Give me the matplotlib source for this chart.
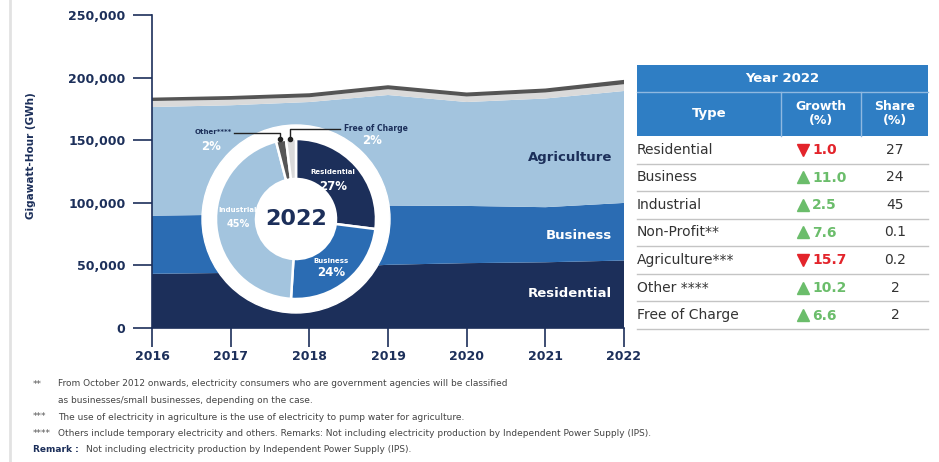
import numpy as np
import matplotlib.pyplot as plt
from matplotlib.patches import Circle, Rectangle

# electricity sales by type, GWh
years = [2016, 2017, 2018, 2019, 2020, 2021, 2022]
residential = [43300, 44000, 47000, 50500, 51800, 52500, 53900]
business = [46400, 46500, 46500, 47300, 45700, 44000, 46000]
industrial = [86800, 87400, 87000, 88300, 83000, 86800, 89400]
free_charge = [4800, 4400, 3800, 4600, 4400, 4800, 5400]
other = [2700, 3000, 3200, 3200, 3200, 3200, 3500]

# 2022 share for the donut
pie_labels = ['Residential', 'Business', 'Industrial', 'Other****', 'Free of Charge']
pie_shares = [27, 24, 45, 2, 2]

# table on the right
tbl_types = ['Residential', 'Business', 'Industrial', 'Non-Profit**',
             'Agriculture***', 'Other ****', 'Free of Charge']
tbl_growth = [-1.0, 11.0, 2.5, 7.6, -15.7, 10.2, 6.6]
tbl_share = ['27', '24', '45', '0.1', '0.2', '2', '2']

notes = [
    ('**', 'From October 2012 onwards, electricity consumers who are government agencies will be classified'),
    ('', 'as businesses/small businesses, depending on the case.'),
    ('***', 'The use of electricity in agriculture is the use of electricity to pump water for agriculture.'),
    ('****', 'Others include temporary electricity and others. Remarks: Not including electricity production by Independent Power Supply (IPS).'),
]

NAVY = '#1c2f5a'
BLUE = '#2b6cb3'
LIGHT = '#a3c4de'
LGRAY = '#dadada'
DGRAY = '#555555'
HEAD = '#2f7ec4'
RED = '#e3242b'
GREEN = '#6bbd6b'

W, H = 939, 462
fig = plt.figure(figsize=(W / 100, H / 100), dpi=100)


def fx(px):
    return px / W


def fy(py):
    return 1 - py / H


# ---- stacked area
ax = fig.add_axes([fx(152), fy(328), fx(624) - fx(152), fy(15) - fy(328)], zorder=1)
ax.stackplot(years, residential, business, industrial, free_charge, other,
             colors=[NAVY, BLUE, LIGHT, LGRAY, DGRAY], linewidth=0)
ax.set_xlim(2016, 2022)
ax.set_ylim(0, 250000)
ax.set_yticks(range(0, 250001, 50000))
ax.set_yticklabels([f'{v:,}' for v in range(0, 250001, 50000)])
ax.set_xticks(years)
for s in ['top', 'right']:
    ax.spines[s].set_visible(False)
for s in ['left', 'bottom']:
    ax.spines[s].set_color(NAVY)
    ax.spines[s].set_linewidth(1.2)
ax.tick_params(axis='y', length=14, width=1.2, color=NAVY, pad=5)
ax.tick_params(axis='x', length=14, width=1.2, color=NAVY, pad=2)
for t in ax.get_yticklabels() + ax.get_xticklabels():
    t.set_fontsize(9)
    t.set_fontweight('bold')
    t.set_color(NAVY)
ax.set_ylabel('Gigawatt-Hour (GWh)', fontsize=7.5, fontweight='bold', color=NAVY)
ax.yaxis.set_label_coords(-0.245, 0.55)

ax.text(2021.85, 136500, 'Agriculture', ha='right', va='center', fontsize=9.5,
        fontweight='bold', color=NAVY)
ax.text(2021.85, 74000, 'Business', ha='right', va='center', fontsize=9.5,
        fontweight='bold', color='white')
ax.text(2021.85, 27500, 'Residential', ha='right', va='center', fontsize=9.5,
        fontweight='bold', color='white')

# ---- donut for 2022
cx, cy = 296, 219
dax = fig.add_axes([fx(cx - 100), fy(cy + 100), 200 / W, 200 / H], zorder=2)
dax.add_patch(Circle((0, 0), 94, color='white', zorder=0))
dax.pie(pie_shares, radius=80, startangle=90, counterclock=False,
        colors=[NAVY, BLUE, LIGHT, DGRAY, LGRAY],
        wedgeprops=dict(width=40, edgecolor='white', linewidth=1.8))
dax.set_xlim(-100, 100)
dax.set_ylim(-100, 100)
dax.set_aspect('equal')
dax.axis('off')
dax.text(0, 0, '2022', ha='center', va='center', fontsize=16, fontweight='bold', color=NAVY)
dax.text(37, 47, pie_labels[0], ha='center', va='center', fontsize=5, fontweight='bold', color='white')
dax.text(37, 33, f'{pie_shares[0]}%', ha='center', va='center', fontsize=8.5, fontweight='bold', color='white')
dax.text(35, -42, pie_labels[1], ha='center', va='center', fontsize=5, fontweight='bold', color='white')
dax.text(35, -54, f'{pie_shares[1]}%', ha='center', va='center', fontsize=8.5, fontweight='bold', color='white')
dax.text(-58, 9, pie_labels[2], ha='center', va='center', fontsize=5, fontweight='bold', color='white')
dax.text(-58, -5, f'{pie_shares[2]}%', ha='center', va='center', fontsize=7, fontweight='bold', color='white')

# ---- overlay in pixel coordinates: callouts, table, notes
ov = fig.add_axes([0, 0, 1, 1], zorder=3)
ov.set_xlim(0, W)
ov.set_ylim(H, 0)
ov.axis('off')

ov.plot([10, 10], [0, H], color='#e2e2e2', lw=2)

# callouts to the small slices
ov.plot([234, 280, 280], [132.5, 132.5, 139], color='#222222', lw=1)
ov.plot([280], [139], 'o', color='#222222', ms=3)
ov.plot([290, 290, 340], [139, 128.5, 128.5], color='#222222', lw=1)
ov.plot([290], [139], 'o', color='#222222', ms=3)
ov.text(232, 132, pie_labels[3], ha='right', va='center', fontsize=5, fontweight='bold', color=NAVY)
ov.text(211, 147, f'{pie_shares[3]}%', ha='center', va='center', fontsize=8.5, fontweight='bold', color='white')
ov.text(344, 128.5, pie_labels[4], ha='left', va='center', fontsize=5.5, fontweight='bold', color=NAVY)
ov.text(372, 141, f'{pie_shares[4]}%', ha='center', va='center', fontsize=8.5, fontweight='bold', color='white')

# table
tl, tr = 637, 928
c1, c2 = 781, 861
ov.add_patch(Rectangle((tl, 65), tr - tl, 136 - 65, color=HEAD, lw=0))
ov.plot([tl, tr], [91.5, 91.5], color='#8fb8e0', lw=1)
ov.plot([c1, c1], [91.5, 136], color='#8fb8e0', lw=1)
ov.plot([c2, c2], [91.5, 136], color='#8fb8e0', lw=1)
ov.text((tl + tr) / 2, 78.5, 'Year 2022', ha='center', va='center', fontsize=9.5, color='white', fontweight='bold')
ov.text((tl + c1) / 2, 114, 'Type', ha='center', va='center', fontsize=9.5, color='white', fontweight='bold')
ov.text((c1 + c2) / 2, 113.5, 'Growth\n(%)', ha='center', va='center', fontsize=9, color='white',
        fontweight='bold', linespacing=1.1)
ov.text((c2 + tr) / 2, 113.5, 'Share\n(%)', ha='center', va='center', fontsize=9, color='white',
        fontweight='bold', linespacing=1.1)

row_h = 27.55
for i, name in enumerate(tbl_types):
    top = 136 + i * row_h
    mid = top + row_h / 2
    ov.plot([tl, tr], [top + row_h, top + row_h], color='#c4c4c4', lw=1)
    ov.text(tl, mid, name, ha='left', va='center', fontsize=10, color='#333333')
    g = tbl_growth[i]
    col = RED if g < 0 else GREEN
    ov.plot([803], [mid], 'v' if g < 0 else '^', color=col, ms=9)
    ov.text(812, mid + 0.5, f'{abs(g):.1f}', ha='left', va='center', fontsize=10,
            color=col, fontweight='bold')
    ov.text(895, mid, tbl_share[i], ha='center', va='center', fontsize=10, color='#333333')

# footnotes
ny = 384
for mark, txt in notes:
    ov.text(33, ny, mark, ha='left', va='center', fontsize=6.5, color='#555555')
    ov.text(58, ny, txt, ha='left', va='center', fontsize=6.5, color='#444444')
    ny += 16.5
ov.text(33, ny, 'Remark :', ha='left', va='center', fontsize=6.5, color=NAVY, fontweight='bold')
ov.text(86, ny, 'Not including electricity production by Independent Power Supply (IPS).',
        ha='left', va='center', fontsize=6.5, color='#444444')

fig.savefig('out.png', dpi=100)
